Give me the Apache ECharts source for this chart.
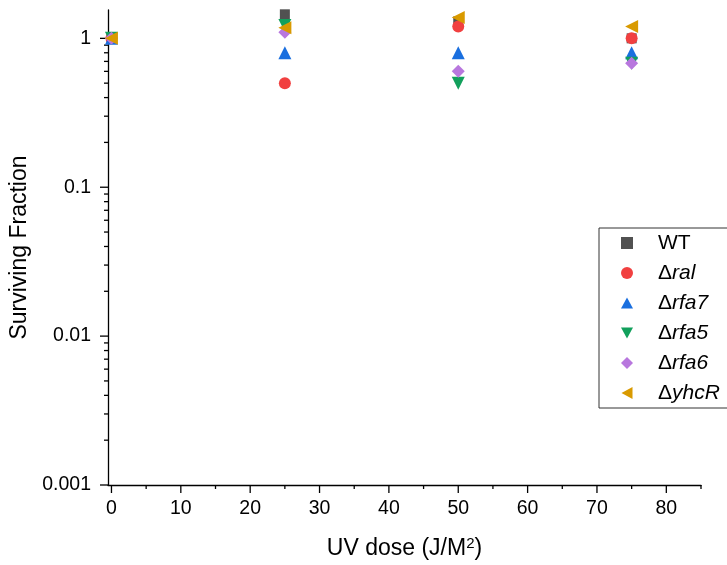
<!DOCTYPE html>
<html><head><meta charset="utf-8">
<script src="https://cdn.jsdelivr.net/npm/echarts@6/dist/echarts.min.js"></script>
<style>html,body{margin:0;padding:0;background:#fff}#c{width:727px;height:565px}</style>
</head><body><div id="c"></div>
<script>
const doses = [0, 25, 50, 75];
const seriesNames = ['WT', 'Δral', 'Δrfa7', 'Δrfa5', 'Δrfa6', 'ΔyhcR'];
const wt    = [1, 1.45, 1.3, 1.0];
const ral   = [1, 0.5, 1.2, 1.0];
const rfa7  = [1, 0.8, 0.8, 0.8];
const rfa5  = [1, 1.22, 0.5, 0.68];
const rfa6  = [1, 1.1, 0.6, 0.68];
const yhcR  = [1, 1.18, 1.38, 1.2];
const xTickLabels = [0, 10, 20, 30, 40, 50, 60, 70, 80];
const xMinorTicks = [5, 15, 25, 35, 45, 55, 65, 75, 85];
const yTickLabels = [0.001, 0.01, 0.1, 1];
const yMinorTicks = [0.002,0.003,0.004,0.005,0.006,0.007,0.008,0.009,
                     0.02,0.03,0.04,0.05,0.06,0.07,0.08,0.09,
                     0.2,0.3,0.4,0.5,0.6,0.7,0.8,0.9];

const X_MIN = -0.5, X_MAX = 85, Y_MIN = 0.001, Y_MAX = 1.55;
const colors = ['#515151', '#F14040', '#1A6FDF', '#12A05C', '#B877DE', '#D99A00'];
const symbols = ['rect', 'circle', 'triangle', 'triangle', 'diamond', 'triangle'];
const rotates = [0, 0, 0, 180, 0, 90];
const sizes = [10, 12, 13, 13, 13, 13];
const legendIcons = ['rect', 'circle', 'path://M6,0L12,11L0,11Z', 'path://M0,0L12,0L6,11Z',
                     'diamond', 'path://M11,0L11,12L0,6Z'];
const values = [wt, ral, rfa7, rfa5, rfa6, yhcR];

const tickData = [];
xTickLabels.forEach(v => tickData.push([0, v, 8]));
xMinorTicks.forEach(v => tickData.push([0, v, 4]));
yTickLabels.forEach(v => tickData.push([1, v, 8]));
yMinorTicks.forEach(v => tickData.push([1, v, 4]));

const series = values.map((vals, i) => ({
  name: seriesNames[i],
  type: 'scatter',
  symbol: symbols[i],
  symbolRotate: rotates[i],
  symbolSize: sizes[i],
  itemStyle: { color: colors[i], opacity: 1 },
  data: doses.map((d, j) => [d, vals[j]]),
  z: 3 + i
}));

series.push({
  type: 'custom',
  name: 'ticks',
  silent: true,
  clip: false,
  z: 1,
  data: tickData,
  renderItem: function (params, api) {
    const kind = tickData[params.dataIndex][0];
    const v = tickData[params.dataIndex][1];
    const len = tickData[params.dataIndex][2];
    if (kind === 0) {
      const p = api.coord([v, Y_MIN]);
      return { type: 'line', shape: { x1: p[0], y1: p[1], x2: p[0], y2: p[1] + len }, style: { stroke: '#000', lineWidth: 1.3 } };
    } else {
      const p = api.coord([X_MIN, v]);
      return { type: 'line', shape: { x1: p[0] - len, y1: p[1], x2: p[0], y2: p[1] }, style: { stroke: '#000', lineWidth: 1.3 } };
    }
  }
});

const FONT = 'Liberation Sans';
const legendData = seriesNames.map((n, i) => ({ name: n, icon: legendIcons[i] }));
const chart = echarts.init(document.getElementById('c'), null, { renderer: 'canvas' });
chart.setOption({
  animation: false,
  backgroundColor: '#fff',
  textStyle: { fontFamily: FONT },
  grid: { left: 108, right: 26, top: 10, bottom: 79, containLabel: false },
  xAxis: {
    type: 'value', min: X_MIN, max: X_MAX,
    name: 'UV dose (J/M{sup|2})', nameLocation: 'middle', nameGap: 51,
    nameTextStyle: { fontSize: 23, color: '#000', fontFamily: FONT,
      rich: { sup: { fontSize: 15, color: '#000', fontFamily: FONT, verticalAlign: 'middle', padding: [0, 0, 10, 0] } } },
    axisLine: { show: true, onZero: false, lineStyle: { color: '#000', width: 1.3 } },
    axisTick: { show: false },
    splitLine: { show: false },
    axisLabel: { color: '#000', fontSize: 19.5, margin: 14, fontFamily: FONT,
      customValues: xTickLabels }
  },
  yAxis: {
    type: 'log', logBase: 10, min: Y_MIN, max: Y_MAX, interval: 1,
    name: 'Surviving Fraction', nameLocation: 'middle', nameGap: 73,
    nameTextStyle: { fontSize: 23, color: '#000', fontFamily: FONT },
    axisLine: { show: true, onZero: false, lineStyle: { color: '#000', width: 1.3 } },
    axisTick: { show: false },
    splitLine: { show: false },
    axisLabel: { color: '#000', fontSize: 19.5, margin: 17, fontFamily: FONT,
      showMaxLabel: false,
      formatter: v => (yTickLabels.some(t => Math.abs(t - v) < 1e-9) ? String(v) : '') }
  },
  legend: {
    orient: 'vertical', left: 599, top: 228,
    data: legendData,
    itemWidth: 12, itemHeight: 12, itemGap: 8,
    padding: [4, 8, 4, 22],
    borderColor: '#333', borderWidth: 1, borderRadius: 0,
    backgroundColor: '#fff',
    textStyle: { fontSize: 21, color: '#000', lineHeight: 22, fontFamily: FONT,
      rich: {
        w: { fontSize: 21, fontStyle: 'normal', color: '#000', fontFamily: FONT, lineHeight: 22, padding: [0, 0, 0, 20] },
        d: { fontSize: 21, fontStyle: 'normal', color: '#000', fontFamily: FONT, lineHeight: 22, padding: [0, 0, 0, 20] },
        i: { fontSize: 21, fontStyle: 'italic', color: '#000', fontFamily: FONT, lineHeight: 22 }
      } },
    formatter: name => name === 'WT' ? '{w|WT}' : '{d|Δ}{i|' + name.slice(1) + '}'
  },
  series: series
});
</script></body></html>
